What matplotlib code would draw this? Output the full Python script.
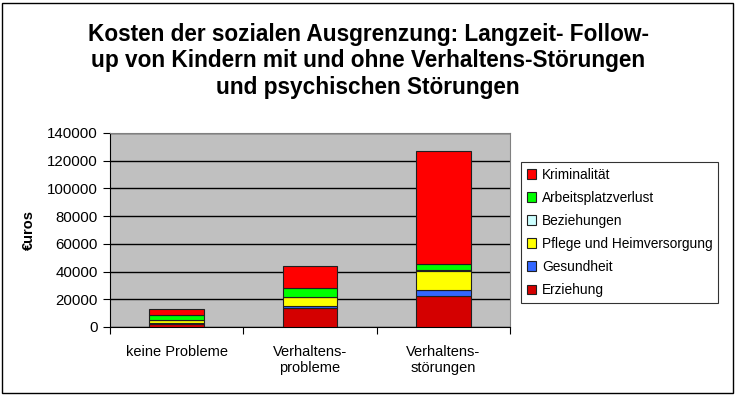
import matplotlib.pyplot as plt
import numpy as np
from matplotlib.patches import Rectangle

plt.rcParams["font.family"] = ["Liberation Sans", "DejaVu Sans"]

categories = ["keine Probleme", "Verhaltens-\nprobleme", "Verhaltens-\nstörungen"]
series = ["Erziehung", "Gesundheit", "Pflege und Heimversorgung",
          "Beziehungen", "Arbeitsplatzverlust", "Kriminalität"]
erziehung = [2500, 13500, 22500]
gesundheit = [300, 1900, 4000]
pflege = [2300, 6500, 14000]
beziehungen = [300, 100, 300]
arbeit = [3600, 6000, 5000]
kriminalitaet = [4300, 16000, 81500]
colors = ["#D40000", "#3366FF", "#FFFF00", "#CCFFFF", "#00FF00", "#FF0000"]

values = [erziehung, gesundheit, pflege, beziehungen, arbeit, kriminalitaet]

fig = plt.figure(figsize=(7.36, 3.95), dpi=100)
ax = fig.add_axes([110 / 736, 1 - 327 / 395, 400 / 736, 194 / 395])
ax.set_facecolor("#C0C0C0")

x = np.arange(len(categories))
bottom = np.zeros(len(categories))
bars = []
for vals, c, name in zip(values, colors, series):
    b = ax.bar(x, vals, width=0.41, bottom=bottom, color=c, edgecolor="#202020",
               linewidth=0.8, label=name, zorder=3)
    bars.append(b)
    bottom += np.array(vals)

ax.set_xlim(-0.5, 2.5)
ax.set_ylim(0, 140000)
ax.set_yticks(range(0, 140001, 20000))
ax.yaxis.grid(True, color="black", linewidth=1.0, zorder=1)
ax.set_xticks([-0.5, 0.5, 1.5, 2.5])
ax.set_xticklabels([])
ax.set_xticks(x, minor=True)
ax.set_xticklabels(categories, minor=True, fontsize=10.5)
ax.tick_params(axis="x", which="minor", length=0, pad=13)
ax.tick_params(axis="x", which="major", length=5, direction="out")
ax.tick_params(axis="y", length=5, direction="out", labelsize=10.8, pad=4)
for side in ["top", "right"]:
    ax.spines[side].set_color("#808080")
ax.spines["left"].set_color("black")
ax.spines["bottom"].set_color("black")
ax.set_ylabel("€uros", fontsize=10.5, fontweight="bold", labelpad=8)

handles = [b[0] for b in bars][::-1]
labels = series[::-1]
leg = fig.legend(handles, labels, loc="upper left",
                 bbox_to_anchor=(521 / 736, 1 - 162 / 395), fontsize=9.9,
                 frameon=True, fancybox=False, edgecolor="black",
                 borderaxespad=0, handlelength=0.7, handleheight=0.7,
                 handletextpad=0.4, labelspacing=0.66, borderpad=0.42)
leg.get_frame().set_linewidth(0.8)

fig.text(0.5, 1 - 61 / 395,
         "Kosten der sozialen Ausgrenzung: Langzeit- Follow-\n"
         "up von Kindern mit und ohne Verhaltens-Störungen\n"
         "und psychischen Störungen",
         ha="center", va="center", fontsize=16.3, fontweight="bold",
         linespacing=1.18)

fig.patches.append(Rectangle((2 / 736, 2 / 395), 731 / 736, 390 / 395,
                             transform=fig.transFigure, fill=False,
                             edgecolor="black", linewidth=1))

fig.savefig("out.png", dpi=100)
